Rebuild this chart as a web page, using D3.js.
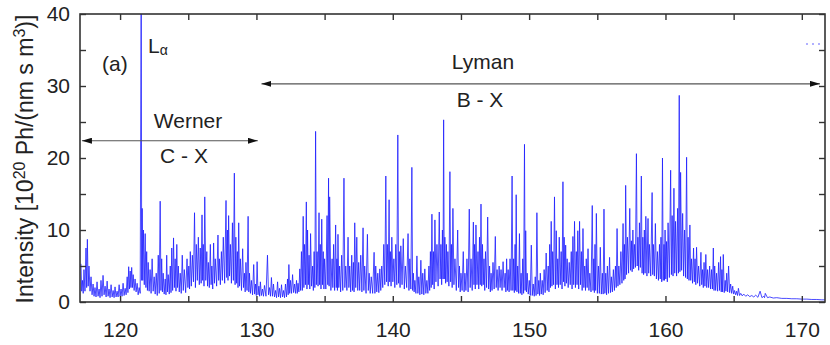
<!DOCTYPE html>
<html>
<head>
<meta charset="utf-8">
<script src="https://cdn.jsdelivr.net/npm/d3@7"></script>
<style>
  html, body { margin: 0; padding: 0; background: #fff; }
  svg { display: block; }
  text { font-family: "Liberation Sans", Arial, Helvetica, sans-serif; fill: #222; }
</style>
</head>
<body>
<svg id="chart" width="830" height="345"></svg>
<script>
// ---- data ----
const xTickLabels = [120, 130, 140, 150, 160, 170];
const yTickLabels = [0, 10, 20, 30, 40];

// spectral lines: wavelength (nm)
const lineNm = [
  117.13,117.24,117.35,117.50,117.60,117.72,117.87,118.02,118.16,118.31,
  118.46,118.60,118.75,118.90,119.05,119.19,119.34,119.49,119.63,119.78,
  119.93,120.07,120.22,120.37,120.52,120.63,120.74,120.85,120.96,121.10,
  121.25,121.40,121.55,121.62,121.71,121.84,121.95,122.06,122.20,122.35,
  122.50,122.65,122.80,122.94,123.05,123.16,123.31,123.42,123.53,123.68,
  123.79,123.92,124.04,124.16,124.27,124.41,124.56,124.71,124.91,125.04,
  125.15,125.30,125.46,125.59,125.74,125.88,126.01,126.10,126.21,126.36,
  126.47,126.62,126.73,126.86,126.98,127.18,127.28,127.43,127.57,127.77,
  127.87,127.96,128.09,128.24,128.38,128.49,128.60,128.70,128.82,128.99,
  129.12,129.23,129.39,129.49,129.63,129.80,129.93,130.05,130.18,130.29,
  130.44,130.59,130.81,130.96,131.10,131.25,131.40,131.55,131.69,131.84,
  131.99,132.13,132.28,132.38,132.50,132.65,132.80,132.94,133.05,133.18,
  133.30,133.43,133.53,133.66,133.75,133.86,133.97,134.12,134.23,134.34,
  134.45,134.59,134.68,134.79,134.90,135.00,135.18,135.29,135.37,135.55,
  135.66,135.81,135.90,135.98,136.10,136.25,136.42,136.55,136.72,136.84,
  136.99,137.11,137.21,137.36,137.50,137.65,137.82,137.94,138.14,138.27,
  138.42,138.63,138.75,138.90,139.05,139.19,139.34,139.49,139.60,139.73,
  139.82,139.93,140.08,140.22,140.37,140.48,140.59,140.77,140.92,141.12,
  141.25,141.40,141.51,141.62,141.77,141.91,142.06,142.20,142.35,142.50,
  142.65,142.76,142.87,142.98,143.09,143.24,143.41,143.53,143.64,143.73,
  143.82,143.93,144.04,144.19,144.30,144.41,144.56,144.76,144.89,145.00,
  145.17,145.29,145.44,145.61,145.74,145.91,146.00,146.10,146.25,146.36,
  146.47,146.58,146.69,146.80,146.96,147.10,147.21,147.35,147.52,147.65,
  147.80,147.94,148.09,148.24,148.35,148.46,148.60,148.75,148.86,148.97,
  149.05,149.16,149.29,149.41,149.53,149.66,149.75,149.86,150.01,150.16,
  150.30,150.45,150.57,150.71,150.82,150.96,151.10,151.25,151.40,151.51,
  151.62,151.73,151.86,151.99,152.10,152.21,152.35,152.48,152.57,152.68,
  152.79,152.94,153.09,153.21,153.33,153.46,153.57,153.70,153.83,153.95,
  154.08,154.19,154.32,154.45,154.63,154.74,154.83,154.93,155.08,155.22,
  155.37,155.49,155.62,155.74,155.90,156.03,156.18,156.33,156.45,156.58,
  156.73,156.89,156.99,157.08,157.21,157.38,157.50,157.61,157.72,157.87,
  157.98,158.09,158.23,158.34,158.45,158.56,158.72,158.82,159.02,159.11,
  159.26,159.41,159.56,159.67,159.78,159.89,159.97,160.08,160.19,160.38,
  160.49,160.62,160.74,160.89,161.01,161.11,161.26,161.40,161.55,161.66,
  161.79,161.91,162.06,162.17,162.28,162.43,162.60,162.72,162.83,162.96,
  163.09,163.24,163.38,163.51,163.61,163.75,163.90,164.04,164.14,164.24,
  164.38,164.49,164.63,164.78,164.93,165.07,165.22,165.35,165.52,165.74,
  166.03,166.33,166.62,166.94,167.21,167.32,167.65,168.16,168.90,169.63,
  170.37,171.10,171.84
];
// peak intensity of each line (10^20 Ph/(nm s m^3)); Lyman-alpha runs off scale
const lineIntensity = [
  5.3,3,4.5,7.5,8.7,5,3.5,2.5,2,2.8,
  1.8,3,3.7,2.2,2.9,1.8,2.4,1.6,2.1,1.5,
  2.4,1.8,2.6,1.9,3.5,4.9,4.3,4.8,3.8,3.2,
  2.6,2,48,13,10,9.5,7,5.5,4.5,6,
  3.5,4,6.5,14,6,4,3.2,6.5,3.8,5,
  7.5,8.9,6,8,5,4,6.5,4.5,6,5,
  7,6.5,12.4,8,9,7.5,12.1,8,14.6,7,
  5.5,8,5,8.2,6,9.3,6,7,9,14.1,
  10,12,8,11,17.9,9,7,11,6,7.4,
  4,5.5,11.9,4,3,5.2,2.5,5.6,2.2,2.8,
  1.8,2.3,6.5,2,3.4,2.5,1.6,2.8,1.9,2.4,
  1.6,2.5,3.2,5.2,3,3.8,2.5,3,2.6,4.6,
  7,11.9,8,13.9,10,6.5,9.5,5,7,23.7,
  7,12.4,8,11.5,7,6,12,17.2,14.6,6,
  8,10.7,6,9.4,5,6.5,17.2,5,9,5,
  6.5,5.5,11,9,5.5,6.5,10.3,5,9.4,4,
  3.5,6.9,5,4,4.6,5,8,17.5,8,14.2,
  7,9,6,8,23.2,7,7.8,8.8,5,9.5,
  6,18.7,4,3,6.4,3.5,5.8,4,4.6,3,
  5,7,12.2,7,11.4,8,12.5,8,10,25.3,
  9,8,7,18.1,8,13,6,10,5,4,
  7,4,6,12.9,6,11.1,8,10.7,7,9,
  13.6,8,6,7,11.8,5,4,5.5,9.1,4.5,
  5,4.5,5.6,4,6,4.5,6,17.5,6,8,
  14.9,5,9.5,4,6,21.9,9.9,4,3,7.9,
  2.5,3.5,12.4,3,4,3,4.5,6.8,5,8,
  11.2,7,14.6,9.9,6,9,7,16.7,9,7.9,
  6,5.5,7,9.1,11.2,7,9.9,11.2,7,10.2,
  5,6,7.4,4,13.4,6,8,12.3,5,7.6,
  4,12.9,4,5,6.2,3.5,4.5,5,10.2,5,
  7,10.9,8,16.2,9,13,8.5,10,8,20.6,
  9,11,17.5,9,10,11.9,11.6,8,15.2,8,
  10.9,7,8,9,20,8,10,8.4,11,18.3,
  12,15.8,11.2,13,28.7,18,12.3,10,20.1,9,
  10.7,6,7.5,6,7.6,5,6.9,4.5,5.5,6.6,
  4.5,5,4.5,7.5,5,4,5.5,6.3,4.5,6.6,
  3,4,5,2.5,2.2,1.6,1.5,1.9,1.2,1.1,
  1.0,0.9,0.95,1.5,0.8,1.2,0.7,0.6,0.5,0.45,
  0.4,0.35,0.3
];
// minimum of the trace just after each line
const floorIntensity = [
  1.5,1.2,1.5,2,2.2,1.5,1,0.8,0.7,0.8,
  0.6,0.8,1,0.7,0.8,0.6,0.7,0.6,0.7,0.7,
  0.8,0.8,0.9,1,1.3,1.8,2,2,1.6,1.4,
  1,1.2,3,3,2.4,2,1.6,1.5,1.2,1.5,
  1.1,0.9,1.2,1.6,1.4,1.1,1,1.4,1.1,1.3,
  1.6,2,1.5,2,1.4,1.2,1.6,1.3,2,1.8,
  2.2,2.8,2,3,2.4,2.6,3,2.2,3,2.2,
  2,2.4,1.8,2.6,2.2,3,2.4,3,2.6,3.4,
  3,3.6,2.6,3,2.4,2.6,2,2.2,1.6,2,
  1.4,1.6,1.4,1.2,1,1.1,0.9,1,0.8,0.9,
  0.8,0.8,1,0.8,0.8,0.7,0.6,0.7,0.6,0.7,
  0.6,0.7,1,1.2,1.2,1.3,1.2,1.2,1.4,1.6,
  1.6,2,2.4,1.8,2.4,1.8,2.2,1.6,2,2.4,
  2.2,2.4,1.8,2.4,1.8,1.8,2.4,2.2,1.6,2,
  1.6,2,1.6,2,1.4,1.6,2,1.6,2,1.4,
  1.6,1.4,2,1.6,1.6,1.4,1.6,1.2,1.6,1.2,
  1.2,1.2,1.4,1.3,1.6,2,2.4,2.8,2.2,2.8,
  2.2,2.8,2,2.4,2.6,2,2.4,1.8,2,1.6,
  1.8,1.6,1.4,1.2,1.2,1,1.1,1,1.2,1.2,
  1.6,2,2.4,1.8,2.8,2.2,3.2,2.4,3.2,3.2,
  2.6,2.8,2.2,2.8,2,2.4,1.6,2,1.4,1.6,
  1.4,1.6,1.4,2,1.6,2.4,1.8,2.4,1.8,2.4,
  2.2,2.4,1.6,2,1.8,1.4,1.6,1.8,2,1.6,
  2,1.6,2,1.4,1.6,1.4,1.6,1.6,1.3,1.6,
  1.4,1.2,1.2,1,1.2,1.6,1.4,1.1,0.9,0.9,
  0.8,0.9,1.1,0.9,1.1,1,1.3,1.6,1.4,2,
  2.2,2.4,1.8,2.4,2,2.4,1.8,2.8,2.2,2.6,
  2,2.4,1.8,2.4,2,2.4,1.8,2.4,1.6,2,
  1.6,2,1.6,1.4,1.6,1.3,1.6,1.2,1.2,1.1,
  1.1,1.2,1,1.2,1.3,1.4,1.6,2,2.2,2.4,
  2.6,3,3.2,3.8,4,4.4,4.2,4.6,4.8,5,
  4.4,4.8,4,3.8,4,3.6,4,3.6,3.8,3.6,
  3.2,3,3.2,2.8,3,3,3.2,2.8,3.4,3.8,
  3.6,4,3.6,4,4.2,4.4,3.6,3.4,3.2,3,
  3,2.6,2.8,2.4,2.6,2.2,2.4,2,2.2,2,
  2,1.8,1.8,1.6,1.6,1.5,1.6,1.4,1.4,1.3,
  1.5,1.4,1.3,1.2,1.1,1,0.9,0.9,0.85,0.8,
  0.75,0.7,0.65,0.6,0.6,0.6,0.55,0.5,0.45,0.4,
  0.35,0.3,0.3
];

// annotation ranges (nm) and levels (intensity)
const wernerRange = [117.2, 130.1], wernerLevel = 22.4;
const lymanRange = [130.37, 171.33], lymanLevel = 30.3;

// ---- drawing ----
const m = { left: 80, right: 825, top: 14, bottom: 302 };
const svg = d3.select("#chart");

const x = d3.scaleLinear().domain([117.06, 171.7]).range([m.left, m.right]);
const y = d3.scaleLinear().domain([0, 40]).range([m.bottom, m.top]);

const defs = svg.append("defs");
defs.append("clipPath").attr("id", "clip")
  .append("rect").attr("x", m.left).attr("y", m.top)
  .attr("width", m.right - m.left).attr("height", m.bottom - m.top);

// build trace: peak, then valley between successive lines
const trace = [];
for (let i = 0; i < lineNm.length; i++) {
  trace.push([lineNm[i], lineIntensity[i]]);
  if (i < lineNm.length - 1) trace.push([(lineNm[i] + lineNm[i + 1]) / 2, floorIntensity[i]]);
}
const line = d3.line().x(d => x(d[0])).y(d => y(d[1]));
svg.append("path")
  .attr("clip-path", "url(#clip)")
  .attr("d", line(trace))
  .attr("fill", "none")
  .attr("stroke", "#1e1eff")
  .attr("stroke-width", 1)
  .attr("stroke-opacity", 0.8)
  .attr("stroke-linejoin", "round");

// axes
const xTicks = d3.range(120, 171, 5);
const yTicks = d3.range(0, 41, 5);
const tickLen = 6;
const fmtX = d => (xTickLabels.includes(d) ? d : "");
const fmtY = d => (yTickLabels.includes(d) ? d : "");

const gx = svg.append("g").attr("transform", `translate(0,${m.bottom})`)
  .call(d3.axisBottom(x).tickValues(xTicks).tickSize(-tickLen).tickPadding(20).tickFormat(fmtX));
const gxt = svg.append("g").attr("transform", `translate(0,${m.top})`)
  .call(d3.axisTop(x).tickValues(xTicks).tickSize(-tickLen).tickFormat(""));
const gy = svg.append("g").attr("transform", `translate(${m.left},0)`)
  .call(d3.axisLeft(y).tickValues(yTicks).tickSize(-tickLen).tickPadding(10).tickFormat(fmtY));
const gyr = svg.append("g").attr("transform", `translate(${m.right},0)`)
  .call(d3.axisRight(y).tickValues(yTicks).tickSize(-tickLen).tickFormat(""));
[gx, gxt, gy, gyr].forEach(g => {
  g.select(".domain").remove();
  g.selectAll(".tick line").attr("stroke", "#333").attr("stroke-width", 1.4);
  g.selectAll(".tick text").attr("font-size", 21).attr("fill", "#222")
    .attr("font-family", '"Liberation Sans", Arial, sans-serif');
});

svg.append("rect")
  .attr("x", m.left).attr("y", m.top)
  .attr("width", m.right - m.left).attr("height", m.bottom - m.top)
  .attr("fill", "none").attr("stroke", "#333").attr("stroke-width", 1.6);

// y-axis title
const yl = svg.append("text")
  .attr("transform", `translate(33,${(m.top + m.bottom) / 2 + 1}) rotate(-90)`)
  .attr("text-anchor", "middle").attr("font-size", 23);
yl.append("tspan").text("Intensity [10");
yl.append("tspan").attr("font-size", 16).attr("dy", -8).text("20");
yl.append("tspan").attr("dy", 8).text(" Ph/(nm s m");
yl.append("tspan").attr("font-size", 16).attr("dy", -8).text("3");
yl.append("tspan").attr("dy", 8).text(")]");

// arrows
defs.append("marker").attr("id", "ah").attr("viewBox", "0 0 10 6")
  .attr("refX", 10).attr("refY", 3).attr("markerWidth", 10).attr("markerHeight", 6)
  .attr("markerUnits", "userSpaceOnUse").attr("orient", "auto-start-reverse")
  .append("path").attr("d", "M0,0 L10,3 L0,6 Z").attr("fill", "#111");

function arrow(range, level) {
  svg.append("line")
    .attr("x1", x(range[0])).attr("x2", x(range[1]))
    .attr("y1", y(level)).attr("y2", y(level))
    .attr("stroke", "#555").attr("stroke-width", 1.1)
    .attr("marker-start", "url(#ah)").attr("marker-end", "url(#ah)");
}
arrow(wernerRange, wernerLevel);
arrow(lymanRange, lymanLevel);

// labels
function label(t, px, py, anchor) {
  return svg.append("text").attr("x", px).attr("y", py)
    .attr("text-anchor", anchor || "middle").attr("font-size", 21).text(t);
}
label("(a)", 102, 71, "start");
label("Werner", 188, 128);
label("C - X", 184, 163);
label("Lyman", 483, 69);
label("B - X", 480, 107);
const la = svg.append("text").attr("x", 148).attr("y", 53).attr("font-size", 21);
la.append("tspan").text("L");
la.append("tspan").attr("font-size", 14).attr("dy", 2).text("α");

// small legend remnant at top right
svg.append("line").attr("x1", 806).attr("x2", 823).attr("y1", 44).attr("y2", 44)
  .attr("stroke", "#3a3aff").attr("stroke-width", 1.2).attr("stroke-dasharray", "2,4")
  .attr("stroke-opacity", 0.8);
</script>
</body>
</html>
